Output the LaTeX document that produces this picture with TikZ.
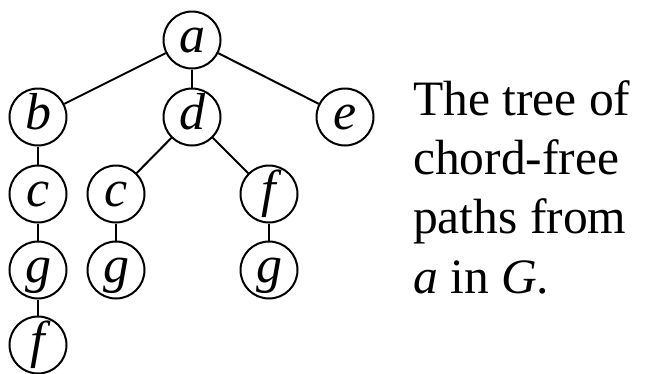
\documentclass[tikz,border=0pt]{standalone}
\usepackage{fontspec}
\setmainfont{Liberation Serif}
\begin{document}
\begin{tikzpicture}[x=1pt,y=-1pt,
  vert/.style={circle,draw,line width=2pt,minimum size=57pt,inner sep=0pt,
    text height=30pt,text depth=6pt,font=\fontsize{52}{52}\selectfont\itshape},
  edge/.style={line width=2pt}]
\useasboundingbox (0,0) rectangle (648,373);
% vertices of the tree
\node[vert] (a)  at (192,40)  {a};
\node[vert] (b)  at (38,117)  {b};
\node[vert] (d)  at (192,117) {d};
\node[vert] (e)  at (345,117) {e};
\node[vert] (c1) at (38,194)  {c};
\node[vert] (c2) at (116,194) {c};
\node[vert] (f2) at (269,194) {f};
\node[vert] (g1) at (38,270)  {g};
\node[vert] (g2) at (116,270) {g};
\node[vert] (g3) at (269,270) {g};
\node[vert] (f1) at (38,345)  {f};
% tree edges
\draw[edge] (a) -- (b);
\draw[edge] (a) -- (d);
\draw[edge] (a) -- (e);
\draw[edge] (d) -- (c2);
\draw[edge] (d) -- (f2);
\draw[edge] (b) -- (c1);
\draw[edge] (c1) -- (g1);
\draw[edge] (g1) -- (f1);
\draw[edge] (c2) -- (g2);
\draw[edge] (f2) -- (g3);
% caption, placed by the baseline of its last line
\node[anchor=base west,align=left,inner sep=0pt,
  font=\fontsize{49.5}{59.3}\selectfont] (cap) at (413,293)
  {The tree of\\chord-free\\paths from\\\textit{a} in \textit{G}.};
\end{tikzpicture}
\end{document}
